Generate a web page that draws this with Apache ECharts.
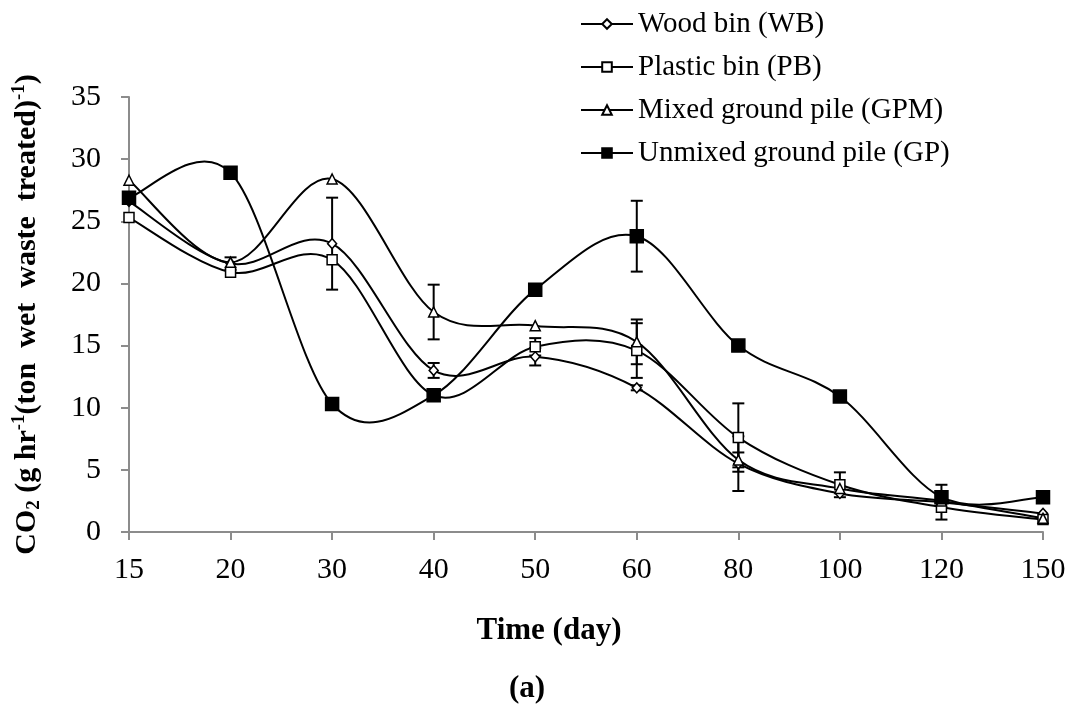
<!DOCTYPE html>
<html>
<head>
<meta charset="utf-8">
<script src="https://cdn.jsdelivr.net/npm/echarts@6/dist/echarts.min.js"></script>
<style>
html,body{margin:0;padding:0;background:#fff;}
#chart{width:1071px;height:704px;}
</style>
</head>
<body>
<div id="chart"></div>
<script>
// ---- data ----
const categories = ['15','20','30','40','50','60','80','100','120','150'];
const seriesNames = ['Wood bin (WB)','Plastic bin (PB)','Mixed ground pile (GPM)','Unmixed ground pile (GP)'];
const wb  = [26.6, 21.6, 23.2, 13.0, 14.1, 11.6, 5.5, 3.1, 2.4, 1.5];
const pb  = [25.3, 20.9, 21.9, 11.0, 14.9, 14.6, 7.6, 3.8, 2.0, 1.0];
const gpm = [28.3, 21.7, 28.4, 17.7, 16.6, 15.3, 5.8, 3.5, 2.5, 1.1];
const gp  = [26.9, 28.9, 10.3, 11.0, 19.5, 23.8, 15.0, 10.9, 2.8, 2.8];
// error bar half-widths (null = none drawn)
const wbErr  = [null, 0.5, 3.7, 0.6, 0.7, 0.2, 2.2, null, 1.4, null];
const pbErr  = [null, null, null, null, 0.7, 2.2, 2.75, 1.0, null, null];
const gpmErr = [null, null, null, 2.2, null, 1.8, 0.6, null, null, null];
const gpErr  = [null, null, null, null, null, 2.85, null, null, null, null];
const yTicks = {min: 0, max: 35, interval: 5};

const FONT = "'Liberation Serif','Times New Roman',serif";

function errData(vals, errs){
  const out = [];
  vals.forEach((v,i)=>{ if(errs[i]!=null) out.push([i, v-errs[i], v+errs[i]]); });
  return out;
}
const allErr = [].concat(errData(wb,wbErr), errData(pb,pbErr), errData(gpm,gpmErr), errData(gp,gpErr));

const chart = echarts.init(document.getElementById('chart'), null, {renderer:'canvas'});

// Excel-like smoothed line (Catmull-Rom style Bezier), drawn through the axis scales
function curveSeries(vals){
  return {
    type:'custom', z:2, silent:true,
    data: vals.map((v,i)=>[i, v]),
    renderItem:function(params, api){
      if (params.dataIndexInside !== 0) return null;
      const n = params.dataInsideLength;
      const pts = [];
      for (let i=0;i<n;i++) pts.push(api.coord([api.value(0,i), api.value(1,i)]));
      let d = 'M' + pts[0][0] + ' ' + pts[0][1];
      for (let i=0;i<n-1;i++){
        const p0 = pts[Math.max(i-1,0)], p1 = pts[i], p2 = pts[i+1], p3 = pts[Math.min(i+2,n-1)];
        const c1 = [p1[0] + (p2[0]-p0[0])/6, p1[1] + (p2[1]-p0[1])/6];
        const c2 = [p2[0] - (p3[0]-p1[0])/6, p2[1] - (p3[1]-p1[1])/6];
        d += ' C' + c1[0] + ' ' + c1[1] + ' ' + c2[0] + ' ' + c2[1] + ' ' + p2[0] + ' ' + p2[1];
      }
      return {type:'path', shape:{pathData:d}, style:{stroke:'#000', lineWidth:2, fill:null}};
    }
  };
}

function markerSeries(name, data, symbol, size, fill){
  return {
    name, type:'line', data, symbol, symbolSize:size, z:3,
    showAllSymbol:true,
    lineStyle:{color:'#000', width:2, opacity:0},
    itemStyle:{color:fill, borderColor:'#000', borderWidth:1.5, opacity:1},
    emphasis:{disabled:true}
  };
}

const option = {
  animation:false,
  backgroundColor:'#fff',
  grid:{left:129, right:28, top:97, bottom:172, containLabel:false},
  legend:{
    orient:'vertical', left:575, top:4,
    itemWidth:52, itemHeight:12, itemGap:13,
    lineStyle:{color:'#000', width:2, opacity:1},
    textStyle:{fontFamily:FONT, fontSize:29, color:'#000', lineHeight:30},
    data:seriesNames
  },
  xAxis:{
    type:'category', data:categories, boundaryGap:false,
    axisLine:{lineStyle:{color:'#8c8c8c', width:2}},
    axisTick:{show:true, alignWithLabel:true, length:8, lineStyle:{color:'#8c8c8c', width:2}},
    axisLabel:{fontFamily:FONT, fontSize:30, color:'#000', margin:23, interval:0},
    splitLine:{show:false}
  },
  yAxis:{
    type:'value', min:yTicks.min, max:yTicks.max, interval:yTicks.interval,
    axisLine:{show:true, lineStyle:{color:'#8c8c8c', width:2}},
    axisTick:{show:true, length:8, lineStyle:{color:'#8c8c8c', width:2}},
    axisLabel:{fontFamily:FONT, fontSize:30, color:'#000', margin:28},
    splitLine:{show:false},
    name:'{a|CO}{sub|2}{a| (g hr}{sup|-1}{a|(ton  wet  waste  treated)}{sup|-1}{a|)}',
    nameLocation:'middle', nameRotate:90, nameGap:85,
    nameTextStyle:{
      fontFamily:FONT, fontWeight:'bold', fontSize:30, color:'#000',
      rich:{
        a:{fontFamily:FONT, fontWeight:'bold', fontSize:30, color:'#000', lineHeight:34, verticalAlign:'middle'},
        sub:{fontFamily:FONT, fontWeight:'bold', fontSize:19, color:'#000', lineHeight:34, verticalAlign:'bottom'},
        sup:{fontFamily:FONT, fontWeight:'bold', fontSize:19, color:'#000', lineHeight:34, verticalAlign:'top'}
      }
    }
  },
  graphic:[
    {type:'text', x:549, y:631, style:{text:'Time (day)', font:"bold 31px 'Liberation Serif', serif", fill:'#000', textAlign:'center', textVerticalAlign:'middle'}},
    {type:'text', x:527, y:689, style:{text:'(a)', font:"bold 31px 'Liberation Serif', serif", fill:'#000', textAlign:'center', textVerticalAlign:'middle'}}
  ],
  series:[
    {
      type:'custom', name:'err', z:1, silent:true,
      data:allErr,
      renderItem:function(params, api){
        const x = api.value(0);
        const lo = api.coord([x, api.value(1)]);
        const hi = api.coord([x, api.value(2)]);
        const hw = 6;
        const st = {stroke:'#000', lineWidth:2};
        return {type:'group', children:[
          {type:'line', shape:{x1:lo[0], y1:lo[1], x2:hi[0], y2:hi[1]}, style:st},
          {type:'line', shape:{x1:lo[0]-hw, y1:lo[1], x2:lo[0]+hw, y2:lo[1]}, style:st},
          {type:'line', shape:{x1:hi[0]-hw, y1:hi[1], x2:hi[0]+hw, y2:hi[1]}, style:st}
        ]};
      }
    },
    curveSeries(wb), curveSeries(pb), curveSeries(gpm), curveSeries(gp),
    markerSeries(seriesNames[0], wb, 'diamond', [9,10], '#fff'),
    markerSeries(seriesNames[1], pb, 'rect', 10, '#fff'),
    markerSeries(seriesNames[2], gpm, 'triangle', 10, '#fff'),
    markerSeries(seriesNames[3], gp, 'rect', 13, '#000')
  ]
};
chart.setOption(option);
</script>
</body>
</html>
